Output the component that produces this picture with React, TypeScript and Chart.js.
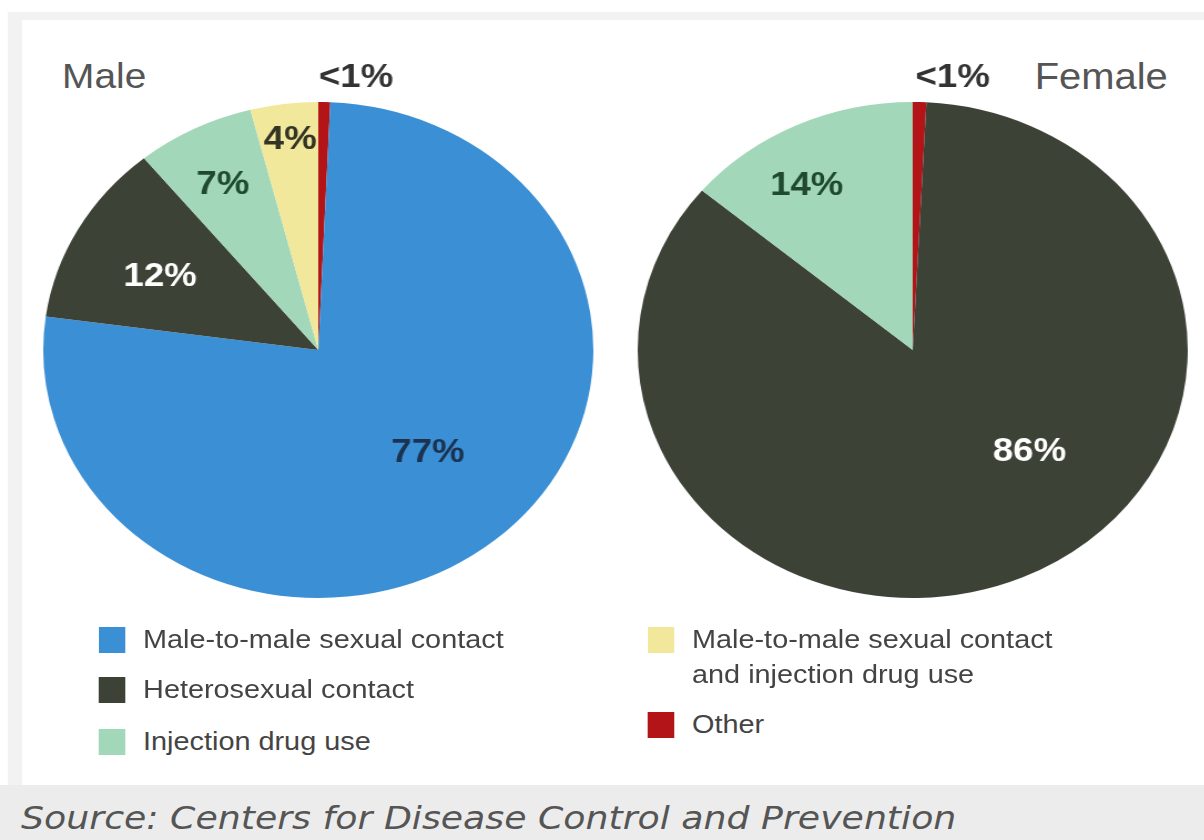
import React, { useEffect, useRef } from "react";
import { Chart, registerables } from "chart.js";

Chart.register(...registerables);

// ---- data ----
const sliceLabels = [
  "Other",
  "Male-to-male sexual contact",
  "Heterosexual contact",
  "Injection drug use",
  "Male-to-male sexual contact and injection drug use",
];
const maleValues = [0.7, 77, 12, 7, 4];
const femaleValues = [0.8, 0, 86, 14, 0];
const maleText = ["<1%", "77%", "12%", "7%", "4%"];
const femaleText = ["<1%", "", "86%", "14%", ""];
const legendLeft = [1, 2, 3];
const legendRight = [4, 0];
const legendLines: Record<number, string[]> = {
  4: ["Male-to-male sexual contact", "and injection drug use"],
};

// ---- style ----
const SX = 1.109;
const sliceColors = ["#b21418", "#3b8fd5", "#3c4236", "#a3d7ba", "#f2e89b"];
const maleTextColors = ["#333333", "#1b3350", "#ffffff", "#1f4a30", "#333326"];
const femaleTextColors = ["#333333", "#ffffff", "#ffffff", "#1f4a30", "#333333"];
// [t within slice, radius fraction] or null for outside label
const maleLabelPos: (number[] | null)[] = [null, [0.485, 0.574], [0.45, 0.646], [0.47, 0.75], [0.52, 0.853]];
const femaleLabelPos: (number[] | null)[] = [null, null, [0.427, 0.59], [0.396, 0.766], null];

const CW = 540;
const CH = 600;

function labelPlugin(texts: string[], colors: string[], pos: (number[] | null)[], outsideDx: number) {
  return {
    id: "pctLabels",
    afterDatasetsDraw(chart: any) {
      const ctx = chart.ctx;
      const meta = chart.getDatasetMeta(0);
      ctx.save();
      ctx.font = "bold 33px 'Liberation Sans', Arial, sans-serif";
      ctx.textAlign = "center";
      ctx.textBaseline = "middle";
      meta.data.forEach((arc: any, i: number) => {
        const txt = texts[i];
        if (!txt) return;
        const p = arc.getProps(["x", "y", "startAngle", "endAngle", "outerRadius"], true);
        let x: number, y: number;
        const lp = pos[i];
        if (lp) {
          const a = p.startAngle + lp[0] * (p.endAngle - p.startAngle);
          x = p.x + Math.cos(a) * lp[1] * p.outerRadius;
          y = p.y + Math.sin(a) * lp[1] * p.outerRadius;
        } else {
          x = p.x + outsideDx;
          y = p.y - p.outerRadius - 24;
        }
        ctx.fillStyle = colors[i];
        ctx.fillText(txt, x, y);
      });
      ctx.restore();
    },
  };
}

function PieCanvas(props: { values: number[]; texts: string[]; colors: string[]; pos: (number[] | null)[]; dx: number; left: number; top: number }) {
  const ref = useRef<HTMLCanvasElement>(null);
  useEffect(() => {
    if (!ref.current) return;
    const chart = new Chart(ref.current, {
      type: "pie",
      data: {
        labels: sliceLabels,
        datasets: [
          {
            data: props.values,
            backgroundColor: sliceColors,
            borderWidth: 0,
          },
        ],
      },
      options: {
        responsive: false,
        animation: false,
        devicePixelRatio: 1,
        events: [],
        layout: { padding: { top: 52, bottom: 52, left: 22, right: 22 } },
        plugins: { legend: { display: false }, tooltip: { enabled: false } },
      },
      plugins: [labelPlugin(props.texts, props.colors, props.pos, props.dx)],
    } as any);
    return () => chart.destroy();
  }, []);
  return (
    <canvas
      ref={ref}
      width={CW}
      height={CH}
      style={{ position: "absolute", left: props.left, top: props.top, width: CW, height: CH }}
    />
  );
}

const legendFont = "26px 'Liberation Sans', Arial, sans-serif";

function LegendItem(props: { idx: number; left: number; top: number }) {
  const lines = legendLines[props.idx] || [sliceLabels[props.idx]];
  return (
    <div style={{ position: "absolute", left: props.left, top: props.top }}>
      <div
        style={{
          position: "absolute",
          left: 0,
          top: -13,
          width: 24,
          height: 26,
          background: sliceColors[props.idx],
        }}
      />
      <div
        style={{
          position: "absolute",
          left: 40,
          top: -18,
          font: legendFont,
          lineHeight: "35px",
          color: "#444",
          whiteSpace: "nowrap",
        }}
      >
        {lines.map((l, k) => (
          <div key={k} style={{ height: 35, lineHeight: "35px" }}>
            {l}
          </div>
        ))}
      </div>
    </div>
  );
}

export default function App() {
  const W = 1204 / SX;
  return (
    <div
      style={{
        position: "fixed",
        left: 0,
        top: 0,
        width: W,
        height: 840,
        transform: `scaleX(${SX})`,
        transformOrigin: "0 0",
        background: "#ffffff",
        overflow: "hidden",
      }}
    >
      <div style={{ position: "absolute", left: 7, top: 12, width: W - 7, height: 828, background: "#f2f2f2" }} />
      <div style={{ position: "absolute", left: 20, top: 20, width: W - 20, height: 765, background: "#ffffff" }} />
      <div style={{ position: "absolute", left: 0, top: 785, width: W, height: 55, background: "#ececec" }} />

      <div
        style={{
          position: "absolute",
          left: 56,
          top: 56,
          height: 40,
          lineHeight: "40px",
          font: "35px 'Liberation Sans', Arial, sans-serif",
          color: "#555",
        }}
      >
        Male
      </div>
      <div
        style={{
          position: "absolute",
          left: 933,
          top: 56,
          height: 40,
          lineHeight: "40px",
          font: "36px 'Liberation Sans', Arial, sans-serif",
          color: "#555",
        }}
      >
        Female
      </div>

      <PieCanvas values={maleValues} texts={maleText} colors={maleTextColors} pos={maleLabelPos} dx={34} left={16.8} top={50} />
      <PieCanvas values={femaleValues} texts={femaleText} colors={femaleTextColors} pos={femaleLabelPos} dx={36} left={553.3} top={50} />

      {legendLeft.map((idx, k) => (
        <LegendItem key={idx} idx={idx} left={89} top={[640, 690, 742][k]} />
      ))}
      {legendRight.map((idx, k) => (
        <LegendItem key={idx} idx={idx} left={584} top={[640, 725][k]} />
      ))}

      <div
        style={{
          position: "absolute",
          left: 19,
          top: 799,
          height: 38,
          lineHeight: "38px",
          font: "italic 32.7px 'DejaVu Sans', Verdana, sans-serif",
          color: "#555",
          whiteSpace: "nowrap",
        }}
      >
        Source: Centers for Disease Control and Prevention
      </div>
    </div>
  );
}
